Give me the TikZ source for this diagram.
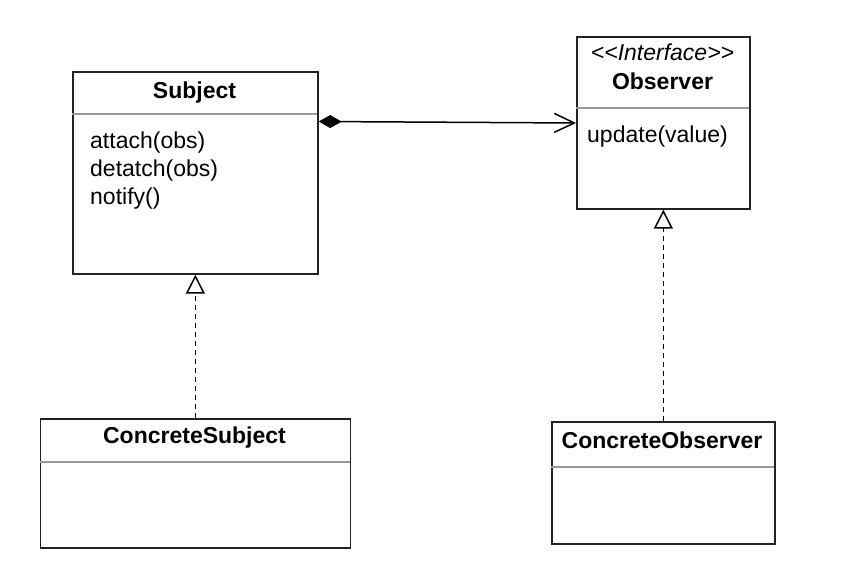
\documentclass[tikz,border=0pt]{standalone}
\usepackage{fontspec}
\setmainfont{Liberation Sans}
\usetikzlibrary{arrows.meta}
\definecolor{boxc}{HTML}{222222}
\definecolor{sepc}{HTML}{999999}
\begin{document}
\begin{tikzpicture}[x=1pt,y=-1pt,
  umlbox/.style={draw=boxc, line width=1.7pt, fill=white, anchor=north west, inner sep=0pt},
  sepline/.style={draw=sepc, line width=1.6pt},
  txt/.style={inner sep=0pt, font=\fontsize{23}{28}\selectfont},
  ttl/.style={txt, anchor=base, font=\fontsize{23}{28}\selectfont\bfseries},
  meth/.style={txt, anchor=base west},
  realize/.style={draw=black, line width=1.6pt, dash pattern=on 5pt off 4pt,
    -{Triangle[open, length=19pt, width=19pt, fill=white, line width=1.5pt]}},
  compose/.style={draw=black, line width=1.5pt,
    {Diamond[length=23pt, width=13pt, line width=0pt]}-{Straight Barb[length=20pt, width=19pt, line width=1.5pt]}}
]
\useasboundingbox[fill=white] (0,0) rectangle (843,586);

% Subject
\node[umlbox, minimum width=245pt, minimum height=202pt] (subj) at (72,71) {};
\draw[sepline] (72,114) -- (317,114);
\node[ttl] (subjt) at (194.5,98) {Subject};
\node[meth] (m1) at (90,148) {attach(obs)};
\node[meth] (m2) at (90,176) {detatch(obs)};
\node[meth] (m3) at (90,204) {notify()};

% Observer
\node[umlbox, minimum width=173pt, minimum height=172pt] (obs) at (576,36) {};
\draw[sepline] (576,108) -- (749,108);
\node[txt, anchor=base] (obsst) at (662.5,60) {\itshape <{}<Interface>{}>};
\node[ttl] (obst) at (662.5,89) {Observer};
\node[meth] (m4) at (587,142) {update(value)};

% ConcreteSubject
\node[umlbox, minimum width=310pt, minimum height=129pt] (csub) at (39.5,418) {};
\draw[sepline] (39.5,462) -- (349.5,462);
\node[ttl] (csubt) at (194.5,443) {ConcreteSubject};

% ConcreteObserver
\node[umlbox, minimum width=223pt, minimum height=122pt] (cobs) at (551,421) {};
\draw[sepline] (551,467) -- (774,467);
\node[ttl] (cobst) at (662,448) {ConcreteObserver};

% connectors
\coordinate (cs) at ([yshift=-50.5pt]subj.north east);
\coordinate (ce) at ([yshift=-87pt]obs.north west);
\draw[compose] (cs) -- (ce);
\draw[realize] (csub.north) -- (subj.south);
\draw[realize] (cobs.north) -- (obs.south);
\end{tikzpicture}
\end{document}
